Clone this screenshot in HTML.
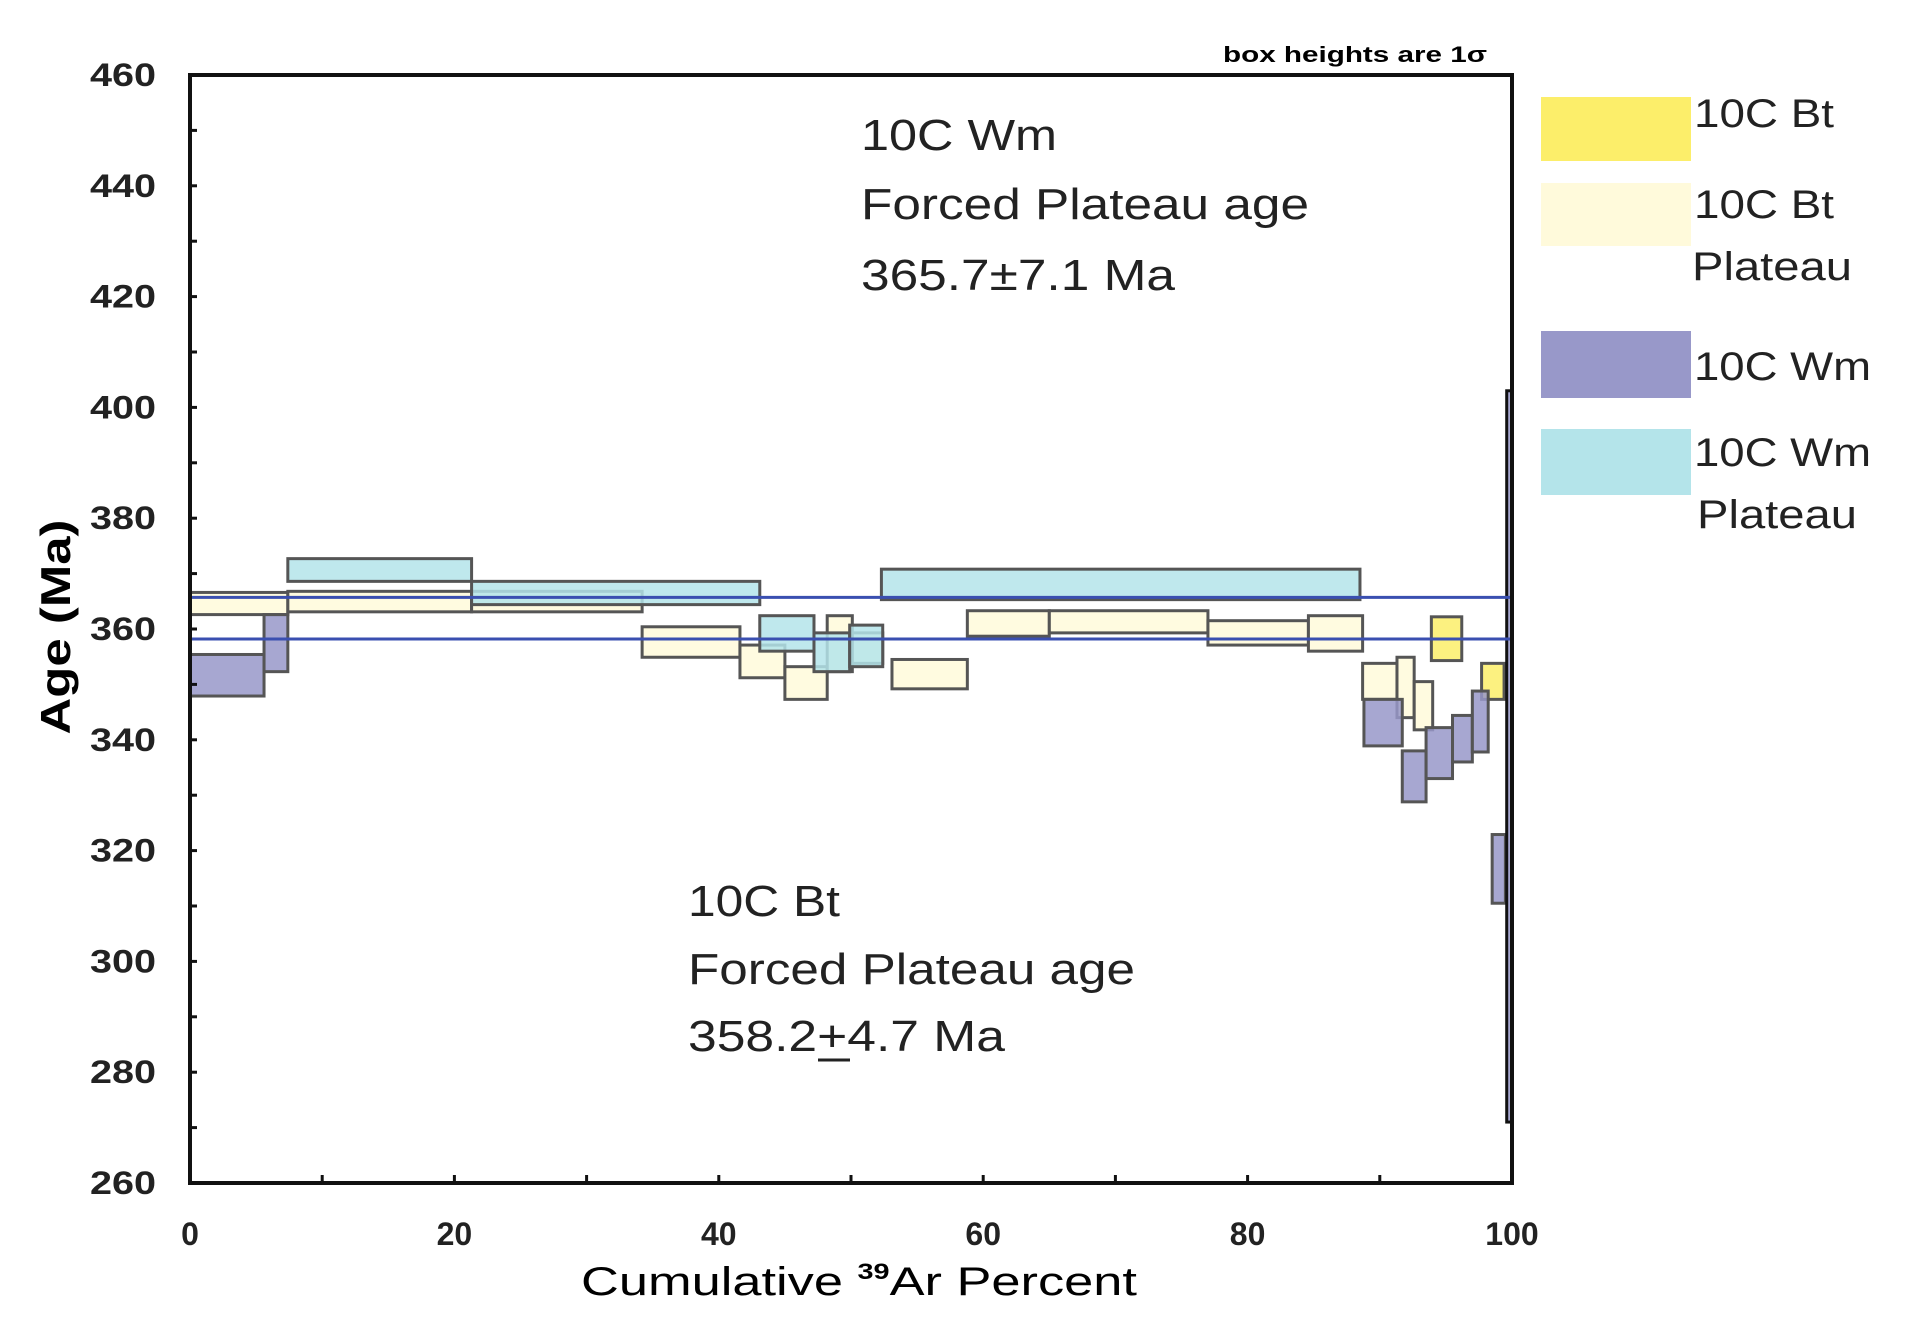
<!DOCTYPE html>
<html><head><meta charset="utf-8"><style>
html,body{margin:0;padding:0;background:#fff;}
svg{display:block;font-family:"Liberation Sans",sans-serif;}
</style></head><body>
<svg id="chart" width="1908" height="1338" viewBox="0 0 1908 1338" xmlns="http://www.w3.org/2000/svg">
<g id="boxes"></g>
<g id="lines"></g>
<g id="axes"></g>
<text x="1223" y="62" font-size="22" font-weight="bold" textLength="264" lengthAdjust="spacingAndGlyphs">box heights are 1σ</text>
<g font-size="44" fill="#222">
<text x="861" y="150" textLength="196" lengthAdjust="spacingAndGlyphs">10C Wm</text>
<text x="861" y="219" textLength="448" lengthAdjust="spacingAndGlyphs">Forced Plateau age</text>
<text x="861" y="290" textLength="314" lengthAdjust="spacingAndGlyphs">365.7±7.1 Ma</text>
</g>
<g font-size="44" fill="#222">
<text x="688" y="916" textLength="152" lengthAdjust="spacingAndGlyphs">10C Bt</text>
<text x="688" y="984" textLength="447" lengthAdjust="spacingAndGlyphs">Forced Plateau age</text>
<text x="688" y="1051" textLength="317" lengthAdjust="spacingAndGlyphs">358.2+4.7 Ma</text>
<line x1="818" y1="1060" x2="850" y2="1060" stroke="#222" stroke-width="3"/>
</g>
<g font-size="40" fill="#222">
<rect x="1541" y="97" width="150" height="64" fill="#fcee6a"/>
<text x="1694" y="127" textLength="140" lengthAdjust="spacingAndGlyphs">10C Bt</text>
<rect x="1541" y="183" width="150" height="63" fill="#fffadb"/>
<text x="1694" y="218" textLength="140" lengthAdjust="spacingAndGlyphs">10C Bt</text>
<text x="1692" y="280" textLength="160" lengthAdjust="spacingAndGlyphs">Plateau</text>
<rect x="1541" y="331" width="150" height="67" fill="#9898c9"/>
<text x="1694" y="380" textLength="177" lengthAdjust="spacingAndGlyphs">10C Wm</text>
<rect x="1541" y="429" width="150" height="66" fill="#b4e4ea"/>
<text x="1694" y="466" textLength="177" lengthAdjust="spacingAndGlyphs">10C Wm</text>
<text x="1697" y="528" textLength="160" lengthAdjust="spacingAndGlyphs">Plateau</text>
</g>
<text x="859" y="1295" font-size="40" text-anchor="middle" textLength="556" lengthAdjust="spacingAndGlyphs">Cumulative <tspan font-size="22" font-weight="bold" dy="-16">39</tspan><tspan dy="16">Ar Percent</tspan></text>
<text transform="translate(70,627) rotate(-90)" font-size="42" font-weight="bold" text-anchor="middle" textLength="215" lengthAdjust="spacingAndGlyphs">Age (Ma)</text>
</svg>
<script>
// Bt plateau steps
const btPlatStart = [0, 7.4, 21.3, 34.2, 41.6, 45.0, 48.2, 50.1, 53.1, 58.8, 65.0, 77.0, 84.6, 88.7, 91.3, 92.6];
const btPlatEnd   = [7.4, 21.3, 34.2, 41.6, 45.0, 48.2, 50.1, 52.4, 58.8, 65.0, 77.0, 84.6, 88.7, 91.3, 92.6, 94.0];
const btPlatLo    = [362.6, 363.1, 363.1, 354.9, 351.2, 347.3, 352.3, 353.8, 349.2, 358.7, 359.3, 357.1, 356.0, 347.3, 344.0, 341.8];
const btPlatHi    = [366.6, 366.8, 366.8, 360.4, 357.1, 353.2, 362.4, 359.3, 354.5, 363.3, 363.3, 361.5, 362.4, 353.8, 354.9, 350.5];
// Bt non-plateau steps
const btStart = [93.9, 97.7];
const btEnd   = [96.2, 99.4];
const btLo    = [354.3, 347.3];
const btHi    = [362.2, 353.8];
// Wm plateau steps
const wmPlatStart = [7.4, 21.3, 43.1, 47.2, 49.9, 52.3];
const wmPlatEnd   = [21.3, 43.1, 47.2, 49.9, 52.4, 88.5];
const wmPlatLo    = [368.6, 364.4, 356.0, 352.3, 353.2, 365.3];
const wmPlatHi    = [372.7, 368.6, 362.4, 359.3, 360.7, 370.8];
// Wm non-plateau steps
const wmStart = [0, 5.6, 88.8, 91.7, 93.5, 95.5, 97.0, 98.5, 99.6];
const wmEnd   = [5.6, 7.4, 91.7, 93.5, 95.5, 97.0, 98.2, 99.5, 100];
const wmLo    = [347.9, 352.3, 338.9, 328.8, 333.0, 336.0, 337.8, 310.5, 271];
const wmHi    = [355.4, 362.6, 347.3, 338.0, 342.2, 344.4, 348.8, 322.9, 403];
// plateau ages
const plateauAges = [365.7, 358.2];
const yTicks = [260,280,300,320,340,360,380,400,420,440,460];
const xTicks = [0,20,40,60,80,100];

const L=190,R=1512,T=75,B=1183;
const xs = p => L + (R-L)*p/100;
const ys = a => B - (B-T)*(a-260)/200;
const NS="http://www.w3.org/2000/svg";
const boxes=document.getElementById('boxes');
function drawSet(s,e,lo,hi,fill,name){
  for(let i=0;i<s.length;i++){
    const r=document.createElementNS(NS,'rect');
    
    
    const w=xs(e[i])-xs(s[i]);
    r.setAttribute('x',xs(s[i]));r.setAttribute('y',ys(hi[i]));
    r.setAttribute('width',Math.max(2,w));r.setAttribute('height',ys(lo[i])-ys(hi[i]));
    r.setAttribute('fill',fill);r.setAttribute('fill-opacity','0.85');
    r.setAttribute('stroke',w<8?'#111':'#555');r.setAttribute('stroke-width','3');
    boxes.appendChild(r);
  }
}
drawSet(btPlatStart,btPlatEnd,btPlatLo,btPlatHi,'#fffadb','bt-plateau-step');
drawSet(btStart,btEnd,btLo,btHi,'#fcee6a','bt-step');
drawSet(wmPlatStart,wmPlatEnd,wmPlatLo,wmPlatHi,'#b4e4ea','wm-plateau-step');
drawSet(wmStart,wmEnd,wmLo,wmHi,'#9898c9','wm-step');
const lines=document.getElementById('lines');
plateauAges.forEach((a,i)=>{
  const l=document.createElementNS(NS,'line');
  
  
  l.setAttribute('x1',L);l.setAttribute('x2',R);l.setAttribute('y1',ys(a));l.setAttribute('y2',ys(a));
  l.setAttribute('stroke','#3a4fb0');l.setAttribute('stroke-width','3');
  lines.appendChild(l);
});
const ax=document.getElementById('axes');
const fr=document.createElementNS(NS,'rect');


fr.setAttribute('x',L);fr.setAttribute('y',T);fr.setAttribute('width',R-L);fr.setAttribute('height',B-T);
fr.setAttribute('fill','none');fr.setAttribute('stroke','#111');fr.setAttribute('stroke-width','4');
ax.appendChild(fr);
for(let a=260;a<=460;a+=10){
  const t=document.createElementNS(NS,'line');
  
  
  t.setAttribute('x1',L);t.setAttribute('x2',L+7);t.setAttribute('y1',ys(a));t.setAttribute('y2',ys(a));
  t.setAttribute('stroke','#111');t.setAttribute('stroke-width','3');ax.appendChild(t);
}
for(let p=0;p<=100;p+=10){
  const t=document.createElementNS(NS,'line');
  
  
  t.setAttribute('x1',xs(p));t.setAttribute('x2',xs(p));t.setAttribute('y1',B);t.setAttribute('y2',B-8);
  t.setAttribute('stroke','#111');t.setAttribute('stroke-width','3');ax.appendChild(t);
}
yTicks.forEach(a=>{
  const t=document.createElementNS(NS,'text');
  
  
  t.setAttribute('x',156);t.setAttribute('y',ys(a)+11);t.setAttribute('text-anchor','end');
  t.setAttribute('font-size','32');t.setAttribute('font-weight','bold');t.setAttribute('fill','#222');
  t.setAttribute('textLength','66');t.setAttribute('lengthAdjust','spacingAndGlyphs');
  t.textContent=a;ax.appendChild(t);
});
xTicks.forEach(p=>{
  const t=document.createElementNS(NS,'text');
  
  
  t.setAttribute('x',xs(p));t.setAttribute('y',1245);t.setAttribute('text-anchor','middle');
  t.setAttribute('font-size','32');t.setAttribute('font-weight','bold');t.setAttribute('fill','#222');
  t.textContent=p;ax.appendChild(t);
});
</script>
</body></html>
